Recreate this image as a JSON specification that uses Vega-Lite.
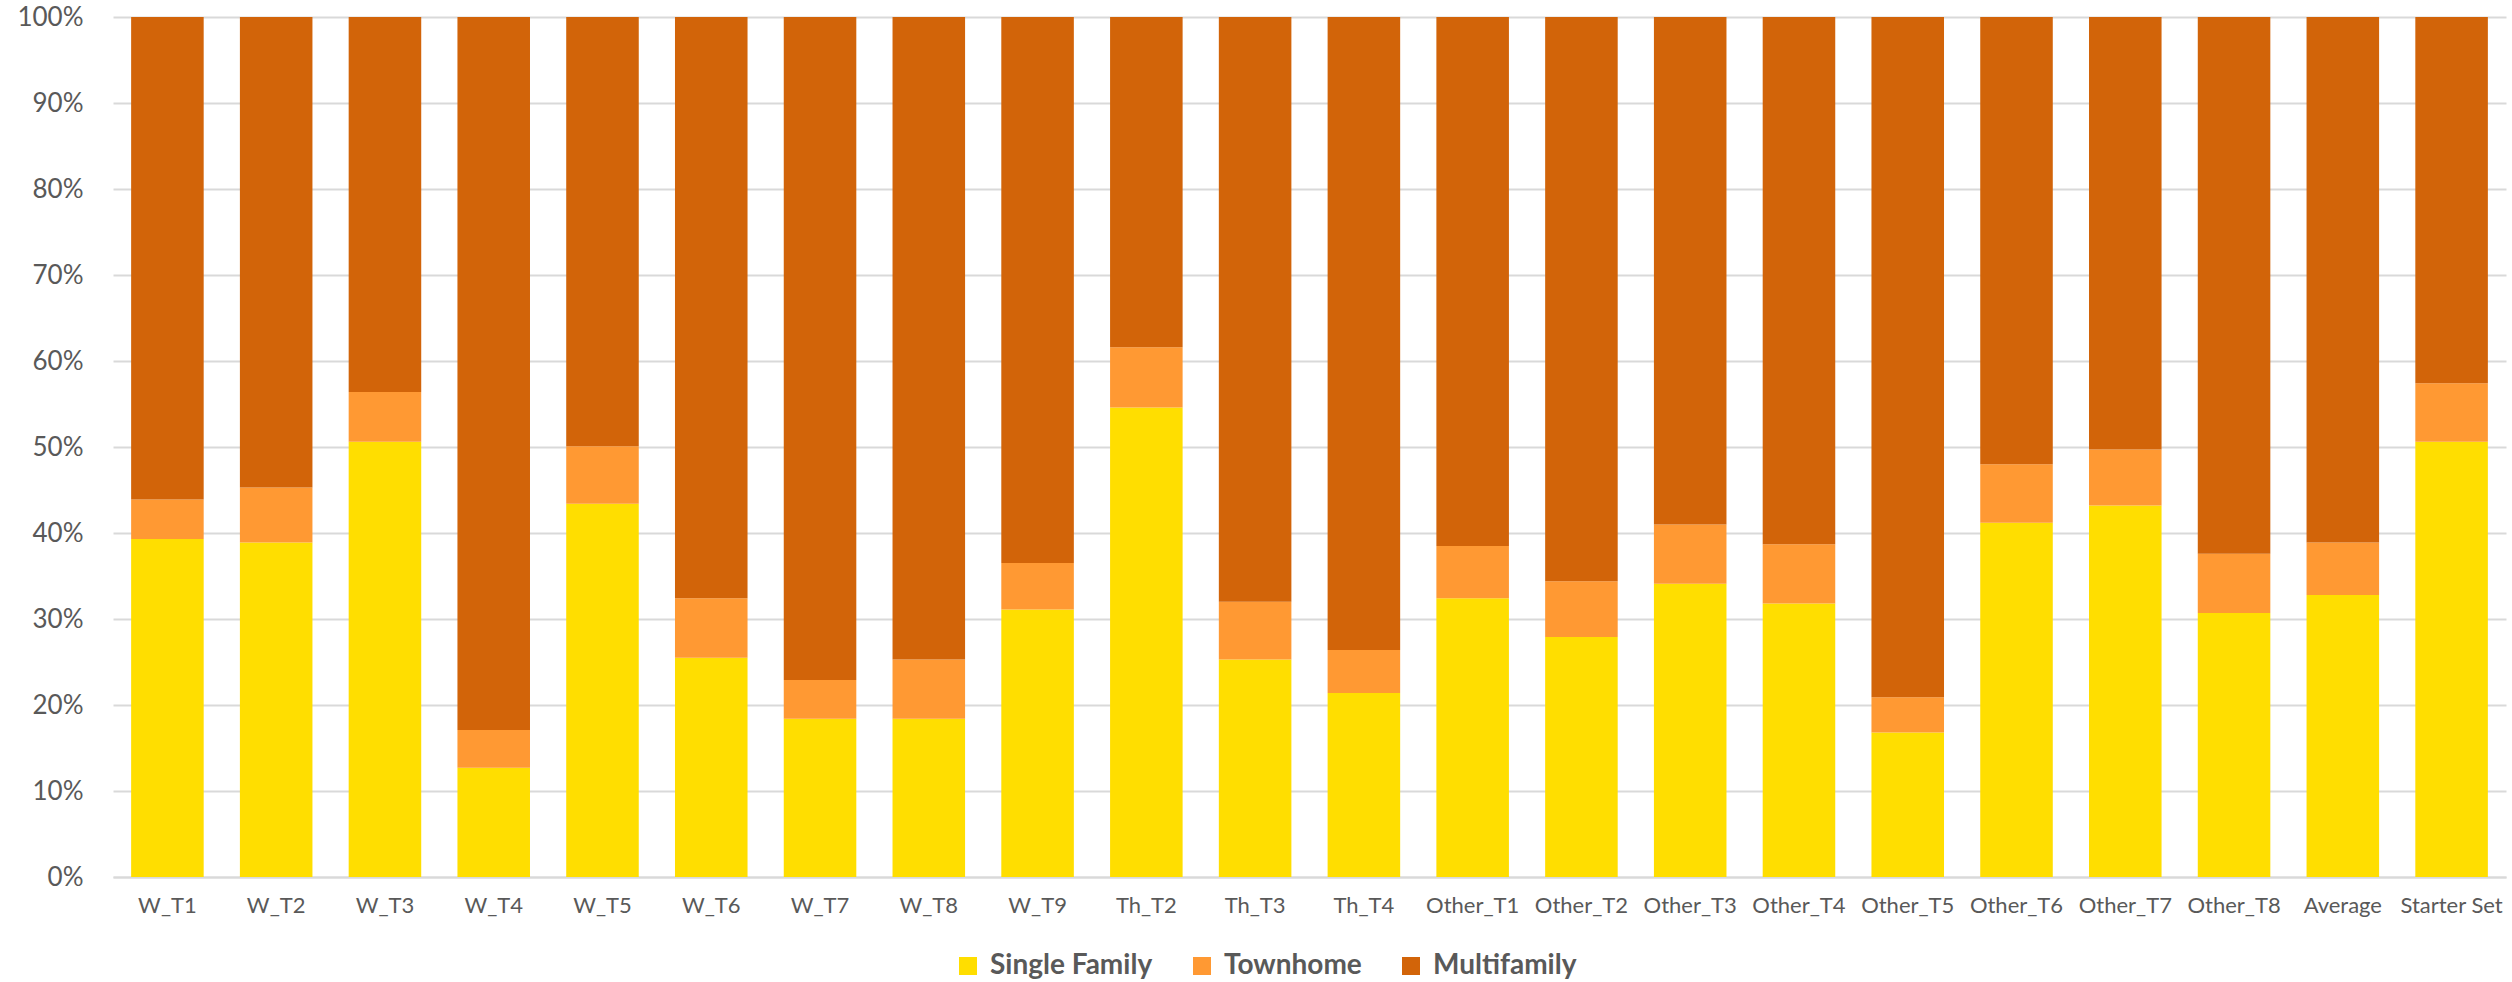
{
  "$schema": "https://vega.github.io/schema/vega-lite/v6.json",
  "width": 2393,
  "height": 860,
  "autosize": {"type": "none"},
  "padding": {"left": 113, "top": 17, "right": 6, "bottom": 105},
  "background": "white",
  "config": {
    "view": {"stroke": null},
    "font": "Lato",
    "axis": {"labelFont": "Lato", "labelColor": "#595959"},
    "legend": {"labelFont": "Lato"}
  },
  "data": {
    "values": [
      {"cat": "W_T1", "type": "Single Family", "ord": 1, "v": 39.3}, {"cat": "W_T1", "type": "Townhome", "ord": 2, "v": 4.6}, {"cat": "W_T1", "type": "Multifamily", "ord": 3, "v": 56.1},
      {"cat": "W_T2", "type": "Single Family", "ord": 1, "v": 38.9}, {"cat": "W_T2", "type": "Townhome", "ord": 2, "v": 6.4}, {"cat": "W_T2", "type": "Multifamily", "ord": 3, "v": 54.7},
      {"cat": "W_T3", "type": "Single Family", "ord": 1, "v": 50.6}, {"cat": "W_T3", "type": "Townhome", "ord": 2, "v": 5.8}, {"cat": "W_T3", "type": "Multifamily", "ord": 3, "v": 43.6},
      {"cat": "W_T4", "type": "Single Family", "ord": 1, "v": 12.7}, {"cat": "W_T4", "type": "Townhome", "ord": 2, "v": 4.4}, {"cat": "W_T4", "type": "Multifamily", "ord": 3, "v": 82.9},
      {"cat": "W_T5", "type": "Single Family", "ord": 1, "v": 43.4}, {"cat": "W_T5", "type": "Townhome", "ord": 2, "v": 6.7}, {"cat": "W_T5", "type": "Multifamily", "ord": 3, "v": 49.9},
      {"cat": "W_T6", "type": "Single Family", "ord": 1, "v": 25.5}, {"cat": "W_T6", "type": "Townhome", "ord": 2, "v": 6.9}, {"cat": "W_T6", "type": "Multifamily", "ord": 3, "v": 67.6},
      {"cat": "W_T7", "type": "Single Family", "ord": 1, "v": 18.4}, {"cat": "W_T7", "type": "Townhome", "ord": 2, "v": 4.5}, {"cat": "W_T7", "type": "Multifamily", "ord": 3, "v": 77.1},
      {"cat": "W_T8", "type": "Single Family", "ord": 1, "v": 18.4}, {"cat": "W_T8", "type": "Townhome", "ord": 2, "v": 6.9}, {"cat": "W_T8", "type": "Multifamily", "ord": 3, "v": 74.7},
      {"cat": "W_T9", "type": "Single Family", "ord": 1, "v": 31.1}, {"cat": "W_T9", "type": "Townhome", "ord": 2, "v": 5.4}, {"cat": "W_T9", "type": "Multifamily", "ord": 3, "v": 63.5},
      {"cat": "Th_T2", "type": "Single Family", "ord": 1, "v": 54.6}, {"cat": "Th_T2", "type": "Townhome", "ord": 2, "v": 7.0}, {"cat": "Th_T2", "type": "Multifamily", "ord": 3, "v": 38.4},
      {"cat": "Th_T3", "type": "Single Family", "ord": 1, "v": 25.3}, {"cat": "Th_T3", "type": "Townhome", "ord": 2, "v": 6.7}, {"cat": "Th_T3", "type": "Multifamily", "ord": 3, "v": 68.0},
      {"cat": "Th_T4", "type": "Single Family", "ord": 1, "v": 21.4}, {"cat": "Th_T4", "type": "Townhome", "ord": 2, "v": 5.0}, {"cat": "Th_T4", "type": "Multifamily", "ord": 3, "v": 73.6},
      {"cat": "Other_T1", "type": "Single Family", "ord": 1, "v": 32.4}, {"cat": "Other_T1", "type": "Townhome", "ord": 2, "v": 6.1}, {"cat": "Other_T1", "type": "Multifamily", "ord": 3, "v": 61.5},
      {"cat": "Other_T2", "type": "Single Family", "ord": 1, "v": 27.9}, {"cat": "Other_T2", "type": "Townhome", "ord": 2, "v": 6.5}, {"cat": "Other_T2", "type": "Multifamily", "ord": 3, "v": 65.6},
      {"cat": "Other_T3", "type": "Single Family", "ord": 1, "v": 34.1}, {"cat": "Other_T3", "type": "Townhome", "ord": 2, "v": 6.9}, {"cat": "Other_T3", "type": "Multifamily", "ord": 3, "v": 59.0},
      {"cat": "Other_T4", "type": "Single Family", "ord": 1, "v": 31.8}, {"cat": "Other_T4", "type": "Townhome", "ord": 2, "v": 6.9}, {"cat": "Other_T4", "type": "Multifamily", "ord": 3, "v": 61.3},
      {"cat": "Other_T5", "type": "Single Family", "ord": 1, "v": 16.8}, {"cat": "Other_T5", "type": "Townhome", "ord": 2, "v": 4.1}, {"cat": "Other_T5", "type": "Multifamily", "ord": 3, "v": 79.1},
      {"cat": "Other_T6", "type": "Single Family", "ord": 1, "v": 41.2}, {"cat": "Other_T6", "type": "Townhome", "ord": 2, "v": 6.8}, {"cat": "Other_T6", "type": "Multifamily", "ord": 3, "v": 52.0},
      {"cat": "Other_T7", "type": "Single Family", "ord": 1, "v": 43.2}, {"cat": "Other_T7", "type": "Townhome", "ord": 2, "v": 6.5}, {"cat": "Other_T7", "type": "Multifamily", "ord": 3, "v": 50.3},
      {"cat": "Other_T8", "type": "Single Family", "ord": 1, "v": 30.7}, {"cat": "Other_T8", "type": "Townhome", "ord": 2, "v": 6.9}, {"cat": "Other_T8", "type": "Multifamily", "ord": 3, "v": 62.4},
      {"cat": "Average", "type": "Single Family", "ord": 1, "v": 32.8}, {"cat": "Average", "type": "Townhome", "ord": 2, "v": 6.1}, {"cat": "Average", "type": "Multifamily", "ord": 3, "v": 61.1},
      {"cat": "Starter Set", "type": "Single Family", "ord": 1, "v": 50.6}, {"cat": "Starter Set", "type": "Townhome", "ord": 2, "v": 6.8}, {"cat": "Starter Set", "type": "Multifamily", "ord": 3, "v": 42.6}
    ]
  },
  "mark": {"type": "bar"},
  "encoding": {
    "x": {
      "field": "cat",
      "type": "nominal",
      "sort": null,
      "scale": {"paddingInner": 0.333, "paddingOuter": 0.1667},
      "axis": {
        "title": null,
        "labelAngle": 0,
        "labelFontSize": 22,
        "labelPadding": 18,
        "labelLimit": 0,
        "ticks": false,
        "domainColor": "#D9D9D9",
        "domainWidth": 2,
        "grid": false
      }
    },
    "y": {
      "field": "v",
      "type": "quantitative",
      "stack": "normalize",
      "scale": {"domain": [0, 1], "nice": false},
      "axis": {
        "title": null,
        "format": ".0%",
        "values": [0, 0.1, 0.2, 0.3, 0.4, 0.5, 0.6, 0.7, 0.8, 0.9, 1],
        "labelFontSize": 26,
        "labelPadding": 30,
        "ticks": false,
        "domain": false,
        "grid": true,
        "gridColor": "#D9D9D9",
        "gridWidth": 2
      }
    },
    "order": {"field": "ord", "type": "quantitative", "sort": "ascending"},
    "color": {
      "field": "type",
      "type": "nominal",
      "sort": ["Single Family", "Townhome", "Multifamily"],
      "scale": {
        "domain": ["Single Family", "Townhome", "Multifamily"],
        "range": ["#FFDE00", "#FF9933", "#D26409"]
      },
      "legend": {
        "title": null,
        "orient": "none",
        "direction": "horizontal",
        "legendX": 841,
        "legendY": 935,
        "symbolType": "square",
        "symbolSize": 324,
        "symbolStrokeWidth": 0,
        "labelFontSize": 28,
        "labelFontWeight": "bold",
        "labelColor": "#595959",
        "labelOffset": 8,
        "labelLimit": 0,
        "columnPadding": 35
      }
    }
  }
}
